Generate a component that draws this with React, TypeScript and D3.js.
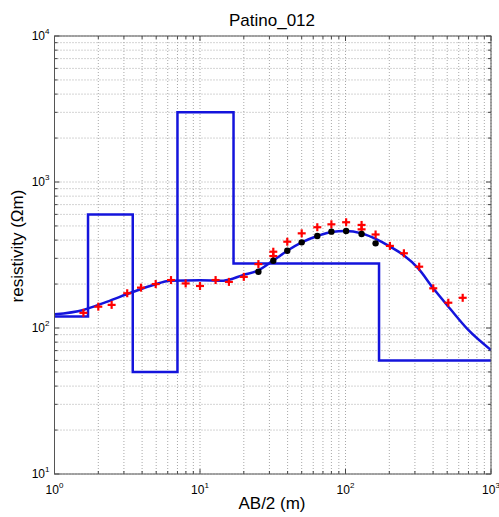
import React from "react";
import * as d3 from "d3";

// Layered earth model: interface depths (m) and layer resistivities (Ωm)
const layerDepths = [1.7, 3.45, 7, 17, 170];
const layerRho = [120, 600, 50, 3000, 277, 60];

// Computed apparent resistivity curve of the model
const curveAB = [1, 1.58, 2.28, 3.48, 4.78, 6.22, 10, 14.5, 19.9, 24.5, 31.9, 40.5, 50, 64, 80, 100, 129, 164, 202, 250, 316, 401, 522, 698, 1000];
const curveRho = [124, 133, 151, 177, 197, 211, 212, 211, 231, 245, 290, 342, 386, 427, 455, 462, 445, 405, 361, 316, 256, 187, 136, 97, 70.7];

// Field measurements (red crosses)
const obsAB = [1.58, 2.0, 2.47, 3.16, 3.93, 4.96, 6.32, 7.97, 10, 12.8, 15.8, 20, 25.2, 31.9, 31.9, 39.8, 50, 64, 80, 101, 129, 129, 161, 202, 252, 321, 401, 509, 639];
const obsRho = [127, 140, 144, 173, 189, 200, 213, 202, 194, 213, 207, 224, 274, 333, 311, 390, 445, 490, 513, 530, 508, 474, 437, 365, 325, 263, 187, 149, 161];

// Overlap-segment points (black dots)
const dotAB = [25.2, 31.9, 39.8, 50, 64, 80, 101, 129, 161];
const dotRho = [243, 289, 338, 386, 427, 457, 462, 440, 380];

const xExp = [0, 1, 2, 3];
const yExp = [1, 2, 3, 4];

const W = 499;
const H = 517;
const L = 54.5, R = 491, T = 36, B = 474;

export default function App() {
  const x = d3.scaleLog().domain([1, 1000]).range([L, R]);
  const y = d3.scaleLog().domain([10, 10000]).range([B, T]);

  const minorX: number[] = [];
  for (let e = 0; e < 3; e++) for (let m = 1; m <= 9; m++) minorX.push(m * Math.pow(10, e));
  minorX.push(1000);
  const minorY: number[] = [];
  for (let e = 1; e < 4; e++) for (let m = 1; m <= 9; m++) minorY.push(m * Math.pow(10, e));
  minorY.push(10000);

  const isMajor = (v: number) => Math.abs(Math.log10(v) - Math.round(Math.log10(v))) < 1e-9;

  // Step path of the layered model
  const modelPts: [number, number][] = [[1, layerRho[0]]];
  layerDepths.forEach((d, i) => {
    modelPts.push([d, layerRho[i]]);
    modelPts.push([d, layerRho[i + 1]]);
  });
  modelPts.push([1000, layerRho[layerRho.length - 1]]);
  const modelPath = d3.line<[number, number]>().x((p) => x(p[0])).y((p) => y(p[1]))(modelPts) || "";

  const curvePath =
    d3
      .line<number>()
      .x((_, i) => x(curveAB[i]))
      .y((_, i) => y(curveRho[i]))
      .curve(d3.curveMonotoneX)(curveAB) || "";

  const blue = "#1414dc";
  const gridColor = "#a8a8a8";
  const font = "'Liberation Sans', Arial, sans-serif";

  return (
    <svg width={W} height={H} style={{ position: "absolute", left: 0, top: 0, background: "#fff" }} fontFamily={font}>
      <defs>
        <clipPath id="plotClip">
          <rect x={L} y={T} width={R - L} height={B - T} />
        </clipPath>
      </defs>
      <rect x={0} y={0} width={W} height={H} fill="#fff" />

      {/* grid */}
      <g stroke={gridColor} strokeWidth={1} strokeDasharray="1,2">
        {minorX.map((v, i) => (
          <line key={"gx" + i} x1={x(v)} x2={x(v)} y1={T} y2={B} />
        ))}
        {minorY.map((v, i) => (
          <line key={"gy" + i} x1={L} x2={R} y1={y(v)} y2={y(v)} />
        ))}
      </g>

      {/* ticks, pointing inward on all sides */}
      <g stroke="#444" strokeWidth={1}>
        {minorX.map((v, i) => {
          const len = isMajor(v) ? 5 : 3;
          return (
            <g key={"tx" + i}>
              <line x1={x(v)} x2={x(v)} y1={B} y2={B - len} />
              <line x1={x(v)} x2={x(v)} y1={T} y2={T + len} />
            </g>
          );
        })}
        {minorY.map((v, i) => {
          const len = isMajor(v) ? 5 : 3;
          return (
            <g key={"ty" + i}>
              <line x1={L} x2={L + len} y1={y(v)} y2={y(v)} />
              <line x1={R} x2={R - len} y1={y(v)} y2={y(v)} />
            </g>
          );
        })}
      </g>

      <g clipPath="url(#plotClip)" fill="none">
        <path d={modelPath} stroke={blue} strokeWidth={2.5} />
        <path d={curvePath} stroke={blue} strokeWidth={2.5} />
      </g>

      {/* observed data */}
      <g stroke="#ff0000" strokeWidth={2.2}>
        {obsAB.map((a, i) => (
          <g key={"o" + i} transform={`translate(${x(a)},${y(obsRho[i])})`}>
            <line x1={-4} x2={4} y1={0} y2={0} />
            <line x1={0} x2={0} y1={-4} y2={4} />
          </g>
        ))}
      </g>
      <g fill="#000">
        {dotAB.map((a, i) => (
          <circle key={"d" + i} cx={x(a)} cy={y(dotRho[i])} r={3.2} />
        ))}
      </g>

      {/* axes box */}
      <rect x={L} y={T} width={R - L} height={B - T} fill="none" stroke="#555" strokeWidth={1} />

      {/* tick labels */}
      <g fontSize={12} fill="#000">
        {xExp.map((e) => (
          <text key={"xl" + e} x={x(Math.pow(10, e))} y={494} textAnchor="middle">
            10<tspan fontSize={8} dy={-6}>{e}</tspan>
          </text>
        ))}
        {yExp.map((e) => (
          <text key={"yl" + e} x={L - 5} y={y(Math.pow(10, e)) + 4} textAnchor="end">
            10<tspan fontSize={8} dy={-6}>{e}</tspan>
          </text>
        ))}
      </g>

      <text x={272} y={26} textAnchor="middle" fontSize={17} fill="#000">
        Patino_012
      </text>
      <text x={272} y={509} textAnchor="middle" fontSize={17} fill="#000">
        AB/2 (m)
      </text>
      <text
        transform={`translate(23,246) rotate(-90)`}
        textAnchor="middle"
        fontSize={17}
        fill="#000"
      >
        resistivity (Ωm)
      </text>
    </svg>
  );
}
